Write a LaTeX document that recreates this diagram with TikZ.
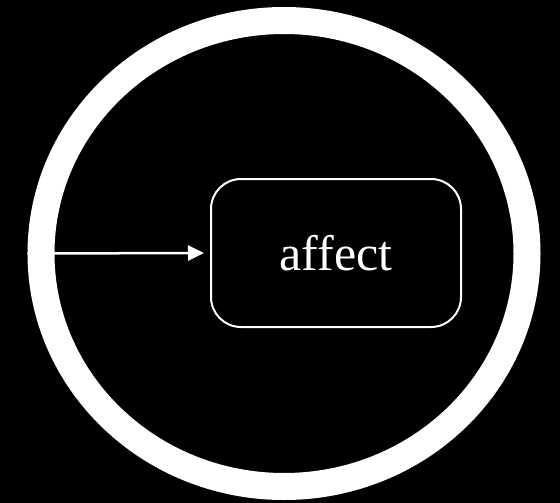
\documentclass[tikz,border=0pt]{standalone}
\usepackage{fontspec}
\setmainfont{Liberation Serif}
\usepackage{tikz}
\usetikzlibrary{arrows.meta,positioning,calc,shapes.geometric}
\tikzset{
  every picture/.style={font=\fontsize{50}{60}\selectfont},
  ring/.style={ellipse,draw=white,line width=27pt,inner sep=0pt,
    minimum width=486pt,minimum height=466pt},
  box/.style={draw=white,line width=2pt,rounded corners=30pt,text=white,
    minimum width=250pt,minimum height=148pt},
  link/.style={white,line width=2.5pt,shorten >=6pt,-{Triangle[length=16pt,width=15pt]}},
}

\begin{document}
\begin{tikzpicture}[x=1pt,y=-1pt]
  \fill[black] (0,0) rectangle (560,503);
  \useasboundingbox (0,0) rectangle (560,503);
  \node[ring] (whole) at (284,253.5) {};
  \node[box] (affect) at (336,253) {affect};
  \draw[link] (whole.west) -- (affect.west);
\end{tikzpicture}
\end{document}
